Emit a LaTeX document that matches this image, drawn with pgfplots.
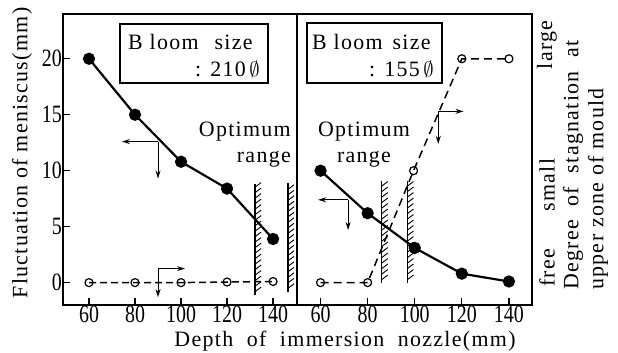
\documentclass[border=0pt]{standalone}
\usepackage{fontspec}
\setmainfont{Liberation Serif}[LetterSpace=6]
\newfontfamily\tickfont{Liberation Serif}[FakeStretch=0.8]
\usepackage{pgfplots}
\pgfplotsset{compat=1.18}
\usetikzlibrary{decorations.markings,arrows.meta}
\tikzset{
 hatch/.style={line width=1.3pt, postaction={decorate, decoration={markings, mark=between positions 0.03 and 0.99 step 5.5bp with {\draw[line width=0.9pt] (0,0) -- (4.5bp,-6bp);}}}},
 arr/.style={line width=1pt, -{Stealth[length=8bp,width=5bp]}}
}
\pgfplotsset{myax/.style={
  scale only axis, width=234bp, height=291bp, anchor=south west,
  ymin=-2, ymax=24, clip=false,
  axis line style={line width=1.6pt},
  tick align=inside, major tick length=7bp,
  tick style={line width=1.2pt, black},
  xtick={60,80,...,140}, xtick pos=bottom, ytick pos=left,
  tick label style={font=\fontsize{25}{25}\tickfont},
  /pgf/number format/assume math mode=true,
  xticklabel style={inner ysep=1bp},
  yticklabel style={inner xsep=1bp},
}}
\begin{document}
\fontsize{22}{26}\selectfont
\begin{tikzpicture}
\path[use as bounding box] (0,0) rectangle (618bp,353bp);
\begin{axis}[myax, at={(63bp,48bp)}, xmin=48.7, xmax=150.4, ytick={0,5,...,20}]
\addplot[line width=2.2pt, mark=*, mark size=5bp] coordinates {(60,20) (80,15) (100,10.8) (120,8.4) (140,3.9)};
\addplot[line width=1.5pt, dash pattern=on 7bp off 4bp, mark=o, mark size=4bp, mark options={solid,fill=white,line width=1.2pt}] coordinates {(60,0) (80,0) (100,0) (120,0.05) (140,0.1)};
\coordinate (A1) at (axis cs:132.2,-1.1);
\coordinate (A2) at (axis cs:132.2,8.8);
\coordinate (B1) at (axis cs:146.5,-0.8);
\coordinate (B2) at (axis cs:146.5,8.9);
\draw[arr] (axis cs:90,12.6) -- (axis cs:74.3,12.6);
\draw[arr] (axis cs:90,12.6) -- (axis cs:90,9.3);
\draw[arr] (axis cs:90,1.25) -- (axis cs:101.7,1.25);
\draw[arr] (axis cs:90,1.25) -- (axis cs:90,-1.3);
\end{axis}
\begin{axis}[myax, at={(297bp,48bp)}, width=235bp, xmin=50, xmax=149.8, ytick=\empty]
\addplot[line width=2.2pt, mark=*, mark size=5bp] coordinates {(60,10) (80,6.2) (100,3.1) (120,0.8) (140,0.1)};
\addplot[line width=1.5pt, dash pattern=on 8bp off 5bp, mark=o, mark size=4bp, mark options={solid,fill=white,line width=1.2pt}] coordinates {(60,0) (80,0) (99.5,10) (120,20) (140,20)};
\coordinate (C1) at (axis cs:86,0);
\coordinate (C2) at (axis cs:86,9.1);
\coordinate (D1) at (axis cs:96.9,0);
\coordinate (D2) at (axis cs:96.9,9.1);
\draw[arr] (axis cs:71.7,7.4) -- (axis cs:59,7.4);
\draw[arr] (axis cs:71.7,7.4) -- (axis cs:71.7,4.7);
\draw[arr] (axis cs:110,15.3) -- (axis cs:120.7,15.3);
\draw[arr] (axis cs:110,15.3) -- (axis cs:110,12.4);
\end{axis}
\draw[hatch] (A1) -- (A2);
\draw[hatch] (B1) -- (B2);
\draw[hatch] (C1) -- (C2);
\draw[hatch] (D1) -- (D2);
% boxes
\draw[line width=1.1pt] (120bp,270bp) rectangle (268bp,329bp);
\node[anchor=west, inner sep=0pt] at (128bp,311bp) {B\ loom\hspace{16bp}size};
\node[anchor=east, inner sep=0pt] at (260bp,284bp) {: 210\,$\emptyset$};
\draw[line width=1.1pt] (307bp,270bp) rectangle (442bp,330bp);
\node[anchor=west, inner sep=0pt] at (312bp,311bp) {B\ loom\hspace{10bp}size};
\node[anchor=east, inner sep=0pt] at (434bp,284bp) {: 155\,$\emptyset$};
% optimum range
\node[align=right, anchor=east, inner sep=0pt] at (291bp,208bp) {Optimum\\range};
\node[align=center, inner sep=0pt] at (364bp,208bp) {Optimum\\range};
% axis labels
\node[rotate=90, inner sep=0pt] at (22bp,200bp) {Fluctuation of meniscus(mm)};
\node[inner sep=0pt] at (345bp,12bp) {Depth\ \ of\ \ immersion\ \ nozzle(mm)};
\node[rotate=90, inner sep=0pt] at (547bp,85bp) {free};
\node[rotate=90, inner sep=0pt] at (547bp,168bp) {small};
\node[rotate=90, inner sep=0pt] at (547bp,308bp) {large};
\node[rotate=90, anchor=west, inner sep=0pt] at (573bp,63bp) {Degree\ \ of\ \ stagnation\ \ at};
\node[rotate=90, anchor=west, inner sep=0pt] at (598bp,63bp) {upper\ zone\ of\ mould};
\end{tikzpicture}
\end{document}
